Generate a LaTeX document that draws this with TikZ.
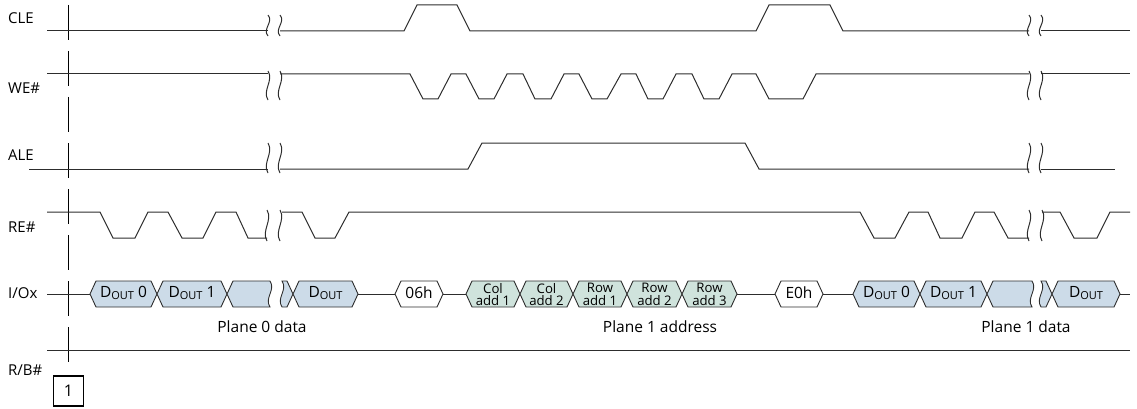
\documentclass[tikz,border=0pt]{standalone}
\usepackage{fontspec}
\setmainfont{Open Sans}
\definecolor{doutc}{RGB}{204,219,232}
\definecolor{addrc}{RGB}{207,227,220}
\definecolor{linec}{RGB}{45,45,45}
\newcommand{\brkmark}[3]{\draw[sig] (#1,#2) .. controls ({#1+6},{#2+(#3-#2)/3}) and ({#1-6},{#2+2*(#3-#2)/3}) .. (#1,#3);}
\newcommand{\bcell}[3]{\draw[cellsty,fill=#3] (#1,294) -- ({#1+6},281) -- ({#2-6},281) -- (#2,294) -- ({#2-6},307) -- ({#1+6},307) -- cycle;}
\newcommand{\dout}{D\raisebox{-2.8pt}{\fontsize{11}{12}\selectfont OUT}}
\begin{document}
\begin{tikzpicture}[x=1pt,y=-1pt,
  sig/.style={draw=linec, line width=1pt, line join=miter},
  cellsty/.style={draw=linec, line width=0.9pt, line join=miter},
  lbl/.style={anchor=west, inner sep=0pt, font=\fontsize{15}{16}\selectfont},
  ctext/.style={inner sep=0pt, font=\fontsize{15.5}{17}\selectfont},
  atext/.style={inner sep=0pt, align=center, font=\fontsize{13.2}{12.6}\selectfont},
  guide/.style={draw=black, line width=1pt, dash pattern=on 35pt off 11pt}]
\useasboundingbox (0,0) rectangle (1137,409);

% guide line and marker
\draw[guide] (68,5) -- (68,363);
\node[draw=black, line width=1.2pt, minimum width=30pt, minimum height=30pt, inner sep=0pt, font=\fontsize{16}{17}\selectfont] (m1) at (68.5,391) {1};

% labels
\node[lbl] (lcle) at (8,18) {CLE};
\node[lbl] (lwe) at (8,88) {WE\#};
\node[lbl] (lale) at (8,155) {ALE};
\node[lbl] (lre) at (8,227) {RE\#};
\node[lbl] (lio) at (8,293) {I/Ox};
\node[lbl] (lrb) at (8,370) {R/B\#};

% CLE
\draw[sig] (47,31) -- (268,31);
\draw[sig] (280,31) -- (404,31) -- (417,5) -- (457,5) -- (470,31) -- (756,31) -- (769,5) -- (830,5) -- (843,31) -- (1029,31);
\draw[sig] (1041,31) -- (1130,31);
\brkmark{268}{15}{36}\brkmark{280}{15}{36}
\brkmark{1029}{15}{36}\brkmark{1041}{15}{36}

% WE#
\draw[sig] (47,74) -- (268,74);
\draw[sig] (280,74) -- (410,74) -- (423,99) -- (438,99) -- (451,74)
  -- (466,74) -- (479,99) -- (494,99) -- (507,74)
  -- (523,74) -- (535,99) -- (551,99) -- (564,74)
  -- (579,74) -- (592,99) -- (607,99) -- (621,74)
  -- (636,74) -- (648,99) -- (663,99) -- (676,74)
  -- (692,74) -- (704,99) -- (719,99) -- (732,74)
  -- (756,74) -- (769,99) -- (803,99) -- (816,74) -- (1029,74);
\draw[sig] (1041,74) -- (1130,74);
\brkmark{268}{71}{100}\brkmark{280}{71}{100}
\brkmark{1029}{71}{100}\brkmark{1041}{71}{100}

% ALE
\draw[sig] (29,169) -- (268,169);
\draw[sig] (280,169) -- (468,169) -- (482,143) -- (745,143) -- (759,169) -- (1029,169);
\draw[sig] (1041,169) -- (1115,169);
\brkmark{268}{143}{173}\brkmark{280}{143}{173}
\brkmark{1029}{143}{173}\brkmark{1041}{143}{173}

% RE#
\draw[sig] (47,212) -- (100,212) -- (113,238) -- (135,238) -- (148,212) -- (168,212) -- (182,238) -- (203,238) -- (216,212) -- (236,212) -- (248,238) -- (267,238);
\draw[sig] (282,212) -- (302,212) -- (315,238) -- (335,238) -- (349,212) -- (860,212) -- (874,238) -- (895,238) -- (909,212) -- (928,212) -- (940,238) -- (962,238) -- (975,212) -- (994,212) -- (1008,238) -- (1029,238);
\draw[sig] (1042,212) -- (1060,212) -- (1074,238) -- (1097,238) -- (1110,212) -- (1130,212);
\brkmark{267}{210}{241}\brkmark{280}{210}{241}
\brkmark{1029}{210}{241}\brkmark{1042}{210}{241}

% I/Ox
\draw[sig] (47,294) -- (90,294);
\bcell{90}{157}{doutc}
\bcell{157}{227}{doutc}
\draw[cellsty,fill=doutc] (227,294) -- (233,281) -- (270,281) .. controls (276,290) and (264,298) .. (270,307) -- (233,307) -- cycle;
\draw[cellsty,fill=doutc] (282,281) -- (287,281) -- (293,294) -- (287,307) -- (282,307) .. controls (276,298) and (288,290) .. (282,281) -- cycle;
\bcell{293}{358}{doutc}
\draw[sig] (358,294) -- (395,294);
\bcell{395}{443}{white}
\draw[sig] (443,294) -- (466,294);
\bcell{466}{520}{addrc}
\bcell{520}{573}{addrc}
\bcell{573}{627}{addrc}
\bcell{627}{682}{addrc}
\bcell{682}{737}{addrc}
\draw[sig] (737,294) -- (775,294);
\bcell{775}{823}{white}
\draw[sig] (823,294) -- (853,294);
\bcell{853}{920}{doutc}
\bcell{920}{987}{doutc}
\draw[cellsty,fill=doutc] (987,294) -- (993,281) -- (1032,281) .. controls (1038,290) and (1026,298) .. (1032,307) -- (993,307) -- cycle;
\draw[cellsty,fill=doutc] (1041,281) -- (1046,281) -- (1052,294) -- (1046,307) -- (1041,307) .. controls (1035,298) and (1047,290) .. (1041,281) -- cycle;
\bcell{1052}{1120}{doutc}
\draw[sig] (1120,294) -- (1130,294);

% cell texts
\node[ctext] (d00) at (123.5,293) {\dout\ 0};
\node[ctext] (d01) at (192,293) {\dout\ 1};
\node[ctext] (d0n) at (325.5,293) {\dout};
\node[ctext] (c06) at (419,293) {06h};
\node[atext] (ca1) at (493,294.5) {Col\\add 1};
\node[atext] (ca2) at (546.5,294.5) {Col\\add 2};
\node[atext] (ra1) at (600,294.5) {Row\\add 1};
\node[atext] (ra2) at (654.5,294.5) {Row\\add 2};
\node[atext] (ra3) at (709.5,294.5) {Row\\add 3};
\node[ctext] (ce0) at (799,293) {E0h};
\node[ctext] (d10) at (886.5,293) {\dout\ 0};
\node[ctext] (d11) at (953.5,293) {\dout\ 1};
\node[ctext] (d1n) at (1086,293) {\dout};

% group labels
\node[ctext] (p0) at (262,327) {Plane 0 data};
\node[ctext] (p1a) at (660,327) {Plane 1 address};
\node[ctext] (p1d) at (1026,327) {Plane 1 data};

% R/B#
\draw[sig] (47,350) -- (1130,350);
\end{tikzpicture}
\end{document}
